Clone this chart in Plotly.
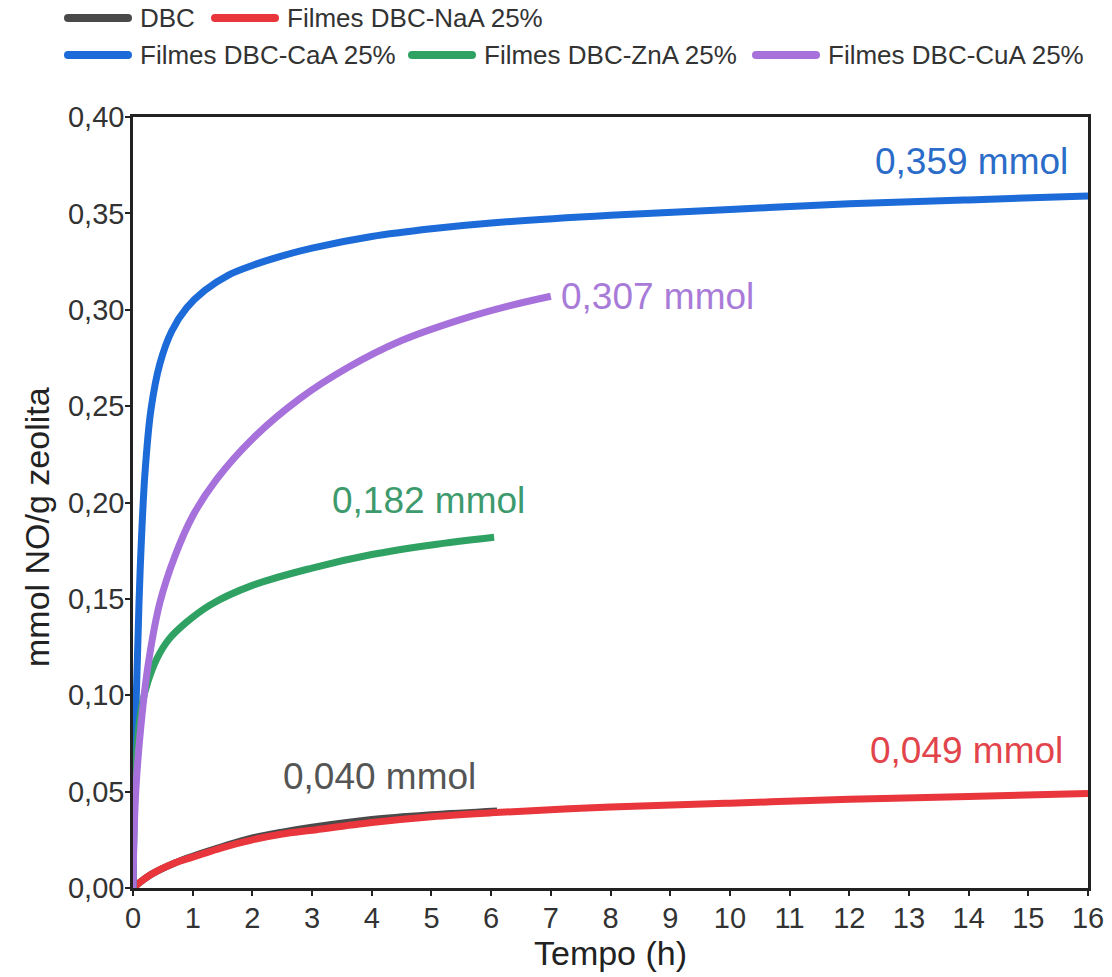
import plotly.graph_objects as go

# Figure geometry (px)
W, H = 1112, 977
M_L, M_R, M_T, M_B = 133, 24, 117, 89
PLOT_W = W - M_L - M_R
PLOT_H = H - M_T - M_B

FONT = "Liberation Sans, Arial, Helvetica, sans-serif"

# ---- data: NO adsorption (mmol NO / g zeolite) vs time (h) ----
names = ["DBC", "Filmes DBC-NaA 25%", "Filmes DBC-CaA 25%",
         "Filmes DBC-ZnA 25%", "Filmes DBC-CuA 25%"]

t_dbc = [0, 0.3, 0.7, 1.0, 1.5, 2.0, 2.5, 3.0, 4.0, 5.0, 6.1]
y_dbc = [0, 0.007, 0.013, 0.0165, 0.0215, 0.026, 0.029, 0.0315, 0.0355, 0.038, 0.040]

t_naa = [0, 0.3, 0.7, 1.0, 1.5, 2.0, 2.5, 3.0, 4.0, 5.0, 6.0, 8.0, 10.0, 12.0, 14.0, 16.0]
y_naa = [0, 0.007, 0.013, 0.016, 0.021, 0.025, 0.028, 0.030, 0.034, 0.037, 0.039,
         0.042, 0.044, 0.046, 0.0475, 0.049]

t_caa = [0, 0.03, 0.07, 0.12, 0.2, 0.3, 0.45, 0.65, 0.9, 1.2, 1.6, 2.0, 2.5, 3.0,
         4.0, 5.0, 6.0, 8.0, 10.0, 12.0, 14.0, 16.0]
y_caa = [0, 0.07, 0.115, 0.165, 0.215, 0.248, 0.272, 0.289, 0.301, 0.310, 0.318,
         0.323, 0.328, 0.332, 0.338, 0.342, 0.345, 0.349, 0.352, 0.355, 0.357, 0.359]

t_zna = [0, 0.03, 0.08, 0.15, 0.25, 0.4, 0.6, 0.9, 1.3, 2.0, 3.0, 4.0, 5.0, 6.05]
y_zna = [0, 0.048, 0.078, 0.095, 0.107, 0.119, 0.129, 0.138, 0.147, 0.157, 0.166,
         0.173, 0.178, 0.182]

t_cua = [0, 0.02, 0.05, 0.12, 0.25, 0.45, 0.7, 1.0, 1.4, 2.0, 2.8, 3.6, 4.5, 5.5,
         6.3, 7.0]
y_cua = [0, 0.03, 0.052, 0.08, 0.115, 0.148, 0.172, 0.193, 0.212, 0.233, 0.254,
         0.270, 0.284, 0.295, 0.302, 0.307]

x_ticks = list(range(0, 17))
y_ticks = [0.00, 0.05, 0.10, 0.15, 0.20, 0.25, 0.30, 0.35, 0.40]

series_t = [t_dbc, t_naa, t_caa, t_zna, t_cua]
series_y = [y_dbc, y_naa, y_caa, y_zna, y_cua]

# ---- styling ----
line_colors = ["#4a4a4a", "#e8363c", "#1c6bd8", "#2fa263", "#a771dc"]
label_colors = ["#555555", "#e2444b", "#2a6cc8", "#3d9a6c", "#a87bd8"]
# label offsets from each curve's end point (px): (xanchor, xshift, yshift)
label_pos = [("right", -19, 34), ("right", -23, 43), ("right", -18, 35),
             ("right", 33, 37), ("left", 8, 0)]


def px_to_paper(px, py):
    return (px - M_L) / PLOT_W, (H - M_B - py) / PLOT_H


fig = go.Figure()
for name, t, y, c in zip(names, series_t, series_y, line_colors):
    fig.add_trace(go.Scatter(
        x=t, y=y, mode="lines", name=name, showlegend=False,
        line=dict(color=c, width=7, shape="spline", smoothing=1.0),
    ))

# end-point value labels
annotations = []
for t, y, c, (xa, dx, dy) in zip(series_t, series_y, label_colors, label_pos):
    text = f"{y[-1]:.3f}".replace(".", ",") + " mmol"
    annotations.append(dict(
        x=t[-1], y=y[-1], xref="x", yref="y", text=text, showarrow=False,
        xanchor=xa, yanchor="middle", xshift=dx, yshift=dy,
        font=dict(family=FONT, size=37, color=c),
    ))

# y-axis title
tx, ty = px_to_paper(37, 527)
annotations.append(dict(
    x=tx, y=ty, xref="paper", yref="paper", text="mmol NO/g zeolita",
    showarrow=False, textangle=-90, xanchor="center", yanchor="middle",
    font=dict(family=FONT, size=34, color="#222222"),
))

# legend drawn as swatches + text, two rows
legend_rows = [[0, 1], [2, 3, 4]]
row_y = [18, 55]
swatch_x = {0: (68, 128), 1: (215, 275), 2: (68, 128), 3: (412, 472), 4: (756, 816)}
shapes = []
for row, py in zip(legend_rows, row_y):
    for i in row:
        x0, x1 = swatch_x[i]
        px0, py0 = px_to_paper(x0, py)
        px1, _ = px_to_paper(x1, py)
        shapes.append(dict(type="line", xref="paper", yref="paper",
                           x0=px0, x1=px1, y0=py0, y1=py0,
                           line=dict(color=line_colors[i], width=8)))
        for cx in (x0, x1):
            ax0, ay0 = px_to_paper(cx - 4, py - 4)
            ax1, ay1 = px_to_paper(cx + 4, py + 4)
            shapes.append(dict(type="circle", xref="paper", yref="paper",
                               x0=ax0, x1=ax1, y0=ay0, y1=ay1,
                               fillcolor=line_colors[i], line=dict(width=0)))
        lx, ly = px_to_paper(x1 + 10, py)
        annotations.append(dict(
            x=lx, y=ly, xref="paper", yref="paper", text=names[i],
            showarrow=False, xanchor="left", yanchor="middle",
            font=dict(family=FONT, size=26, color="#333333"),
        ))

axis_common = dict(
    showline=True, linecolor="#222222", linewidth=2.5, mirror=True,
    ticks="outside", ticklen=5, tickwidth=2, tickcolor="#222222",
    showgrid=False, zeroline=False,
    tickfont=dict(family=FONT, size=29, color="#333333"),
)

fig.update_layout(
    width=W, height=H,
    margin=dict(l=M_L, r=M_R, t=M_T, b=M_B, autoexpand=False),
    paper_bgcolor="white", plot_bgcolor="white",
    separators=",.",
    showlegend=False,
    xaxis=dict(range=[0, 16], tickvals=x_ticks, ticklabelstandoff=-3,
               title=dict(text="Tempo (h)", standoff=8,
                          font=dict(family=FONT, size=34, color="#222222")),
               **axis_common),
    yaxis=dict(range=[0, 0.40], tickvals=y_ticks, tickformat=".2f",
               ticklabelstandoff=-5,
               **axis_common),
    annotations=annotations,
    shapes=shapes,
)

fig.write_html("out.html")
